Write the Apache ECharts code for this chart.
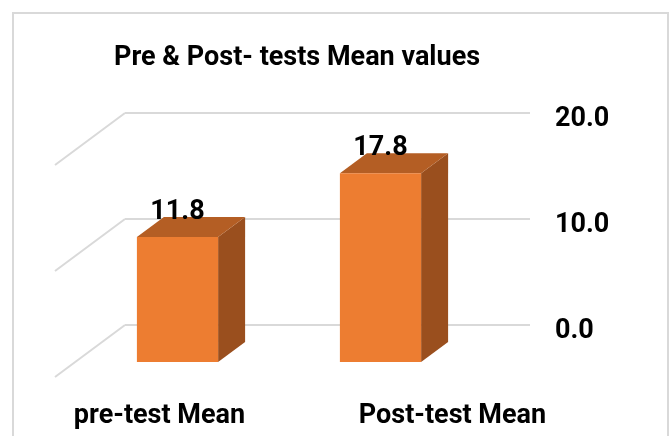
<!DOCTYPE html>
<html>
<head>
<meta charset="utf-8">
<script src="https://cdn.jsdelivr.net/npm/echarts@6/dist/echarts.min.js"></script>
<style>
  html, body { margin: 0; padding: 0; background: #fff; }
  #main { width: 672px; height: 436px; }
</style>
</head>
<body>
<div id="main"></div>
<script>
var categories = ['pre-test Mean', 'Post-test Mean'];
var meanValues = [11.8, 17.8];
var tickValues = [0, 10, 20];

var font = 'Roboto';
var chartDom = document.getElementById('main');
var myChart = echarts.init(chartDom);
var option;

// depth offsets for the fake 3d look
var barDepth = [27, -20];
var wallDepth = [-70, 52];

option = {
    animation: false,
    title: {
        text: 'Pre & Post- tests Mean values',
        left: 109,
        top: 40,
        textStyle: {
            fontFamily: font,
            fontWeight: 'bold',
            fontSize: 27,
            color: '#000'
        }
    },
    graphic: [{
        type: 'rect',
        shape: { x: 13, y: 13, width: 655, height: 440 },
        style: { fill: 'none', stroke: '#d9d9d9', lineWidth: 2 },
        silent: true
    }],
    grid: [
        // back wall
        { left: 125, right: 142, top: 113, bottom: 111 },
        // front plane of the bars
        { left: 76, right: 190, top: 150, bottom: 74 },
        // category labels on the floor edge
        { left: 13, right: 73, top: 300, bottom: 38 }
    ],
    xAxis: [
        { gridIndex: 0, type: 'value', min: 0, max: 1, show: false },
        { gridIndex: 1, type: 'category', data: categories, show: false },
        {
            gridIndex: 2,
            type: 'category',
            data: categories,
            axisLine: { show: false },
            axisTick: { show: false },
            axisLabel: {
                margin: 5,
                fontFamily: font,
                fontWeight: 'bold',
                fontSize: 27,
                color: '#000'
            }
        }
    ],
    yAxis: [
        {
            gridIndex: 0,
            type: 'value',
            position: 'right',
            min: 0,
            max: 20,
            interval: 10,
            axisLine: { show: false },
            axisTick: { show: false },
            splitLine: { lineStyle: { color: '#d9d9d9', width: 2 } },
            axisLabel: {
                margin: 25,
                formatter: function (v) { return '{v|' + v.toFixed(1) + '}'; },
                rich: {
                    v: {
                        padding: [12, 0, 0, 0],
                        fontFamily: font,
                        fontWeight: 'bold',
                        fontSize: 27,
                        color: '#000'
                    }
                }
            }
        },
        { gridIndex: 1, type: 'value', min: 0, max: 20, show: false },
        { gridIndex: 2, type: 'value', show: false }
    ],
    series: [{
        // side wall lines
        type: 'custom',
        xAxisIndex: 0,
        yAxisIndex: 0,
        silent: true,
        data: tickValues.map(function (v) { return [0, v]; }),
        renderItem: function (params, api) {
            var p = api.coord([api.value(0), api.value(1)]);
            return {
                type: 'line',
                shape: { x1: p[0], y1: p[1], x2: p[0] + wallDepth[0], y2: p[1] + wallDepth[1] },
                style: { stroke: '#d9d9d9', lineWidth: 2 }
            };
        }
    }, {
        name: 'Mean',
        type: 'custom',
        xAxisIndex: 1,
        yAxisIndex: 1,
        data: meanValues.map(function (v, i) { return [i, v]; }),
        renderItem: function (params, api) {
            var i = api.value(0);
            var v = api.value(1);
            var base = api.coord([i, 0]);
            var top = api.coord([i, v]);
            var w = api.size([1, 0])[0] * 0.4;
            var x0 = base[0] - w / 2;
            var x1 = base[0] + w / 2;
            var dx = barDepth[0], dy = barDepth[1];
            return {
                type: 'group',
                children: [{
                    type: 'polygon',
                    shape: { points: [[x1, top[1]], [x1 + dx, top[1] + dy], [x1 + dx, base[1] + dy], [x1, base[1]]] },
                    style: { fill: '#9a4f1e' }
                }, {
                    type: 'polygon',
                    shape: { points: [[x0, top[1]], [x0 + dx, top[1] + dy], [x1 + dx, top[1] + dy], [x1, top[1]]] },
                    style: { fill: '#b45e24' }
                }, {
                    type: 'rect',
                    shape: { x: x0, y: top[1], width: w, height: base[1] - top[1] },
                    style: { fill: '#ed7d31' }
                }, {
                    type: 'text',
                    x: base[0],
                    y: top[1] - 25,
                    style: {
                        text: v.toFixed(1),
                        align: 'center',
                        verticalAlign: 'middle',
                        fontFamily: font,
                        fontWeight: 'bold',
                        fontSize: 27,
                        fill: '#000'
                    }
                }]
            };
        }
    }]
};

option && myChart.setOption(option);
</script>
</body>
</html>
